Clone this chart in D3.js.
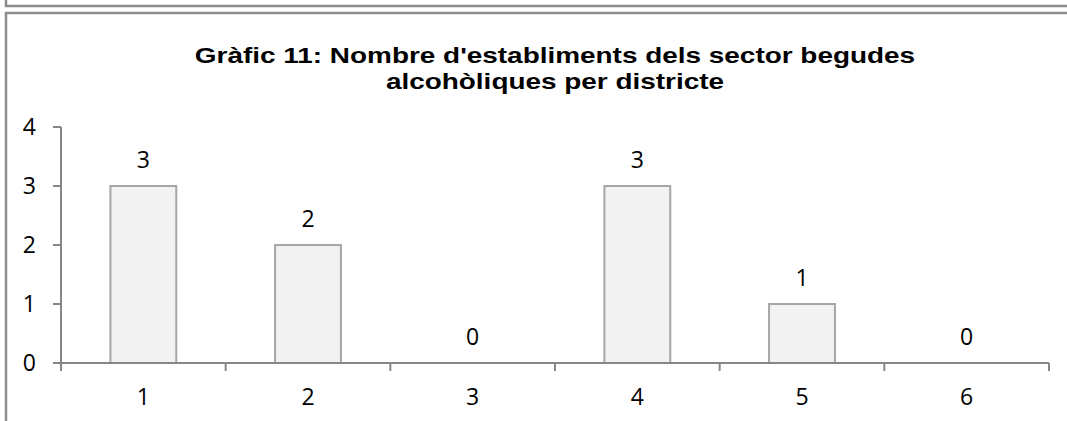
<!DOCTYPE html>
<html lang="ca">
<head>
<meta charset="UTF-8"/>
<title>Gràfic 11</title>
<script src="https://d3js.org/d3.v7.min.js"></script>
<style>
  body { margin: 0; background: #fff; overflow: hidden; }
  svg { display: block; }
  text { fill: #000; }
  .tick-label { font-family: 'Open Sans', sans-serif; font-size: 23px; }
  .value { font-family: 'Open Sans', sans-serif; font-size: 23px; }
  .title { font-family: 'Liberation Sans', Arial, sans-serif; font-size: 22px; font-weight: bold; }
  .bar { fill: #f2f2f2; stroke: #a6a6a6; stroke-width: 2; }
  .axis line, .axis path { stroke: #868686; stroke-width: 2; }
  .frame { fill: none; stroke: #8c8c8c; stroke-width: 2.5; }
</style>
</head>
<body>
<svg width="1067" height="421"></svg>
<script>
const districts = ['1', '2', '3', '4', '5', '6'];
const counts = [3, 2, 0, 3, 1, 0];
const yTicks = [0, 1, 2, 3, 4];
const titleLines = ["Gràfic 11: Nombre d'establiments dels sector begudes", "alcohòliques per districte"];

const svg = d3.select('svg');

// frames (bottom of previous box, and the chart box)
svg.append('rect').attr('class', 'frame').attr('x', 6).attr('y', -20).attr('width', 1080).attr('height', 26);
svg.append('rect').attr('class', 'frame').attr('x', 6).attr('y', 13).attr('width', 1080).attr('height', 440);

const plotL = 61, plotR = 1049, plotT = 127, plotB = 363;

const x = d3.scaleBand().domain(districts).range([plotL, plotR]).paddingInner(0.6).paddingOuter(0.3);
const y = d3.scaleLinear().domain([0, 4]).range([plotB, plotT]);

// title (the source title is drawn a bit wider than the font)
svg.append('text').attr('class', 'title').attr('text-anchor', 'middle')
  .attr('transform', 'translate(555,0) scale(1.27,1)')
  .selectAll('tspan').data(titleLines).join('tspan')
  .attr('x', 0).attr('y', (d, i) => 63 + i * 26).text(d => d);

// bars
svg.append('g').selectAll('rect').data(counts).join('rect').attr('class', 'bar')
  .attr('x', (d, i) => x(districts[i])).attr('width', x.bandwidth())
  .attr('y', d => y(d)).attr('height', d => plotB - y(d));

// value labels
svg.append('g').selectAll('text').data(counts).join('text').attr('class', 'value')
  .attr('x', (d, i) => x(districts[i]) + x.bandwidth() / 2)
  .attr('y', d => y(d) - 26).attr('dy', '0.35em')
  .attr('text-anchor', 'middle').text(d => d);

// y axis
const yAxis = svg.append('g').attr('class', 'axis');
yAxis.append('line').attr('x1', plotL).attr('x2', plotL).attr('y1', y(4)).attr('y2', plotB + 8);
yAxis.selectAll('line.t').data(yTicks).join('line').attr('class', 't')
  .attr('x1', plotL - 8).attr('x2', plotL).attr('y1', d => y(d)).attr('y2', d => y(d));
yAxis.selectAll('text').data(yTicks).join('text').attr('class', 'tick-label')
  .attr('x', 36).attr('y', d => y(d)).attr('dy', '0.35em').attr('text-anchor', 'end').text(d => d);

// x axis, ticks on the category boundaries
const xAxis = svg.append('g').attr('class', 'axis');
xAxis.append('line').attr('x1', plotL - 8).attr('x2', plotR).attr('y1', plotB).attr('y2', plotB);
const bounds = d3.range(districts.length + 1).map(i => plotL + i * (plotR - plotL) / districts.length);
xAxis.selectAll('line.t').data(bounds).join('line').attr('class', 't')
  .attr('x1', d => d).attr('x2', d => d).attr('y1', plotB).attr('y2', plotB + 8);
xAxis.selectAll('text').data(districts).join('text').attr('class', 'tick-label')
  .attr('x', d => x(d) + x.bandwidth() / 2).attr('y', 397).attr('dy', '0.35em')
  .attr('text-anchor', 'middle').text(d => d);
</script>
</body>
</html>
